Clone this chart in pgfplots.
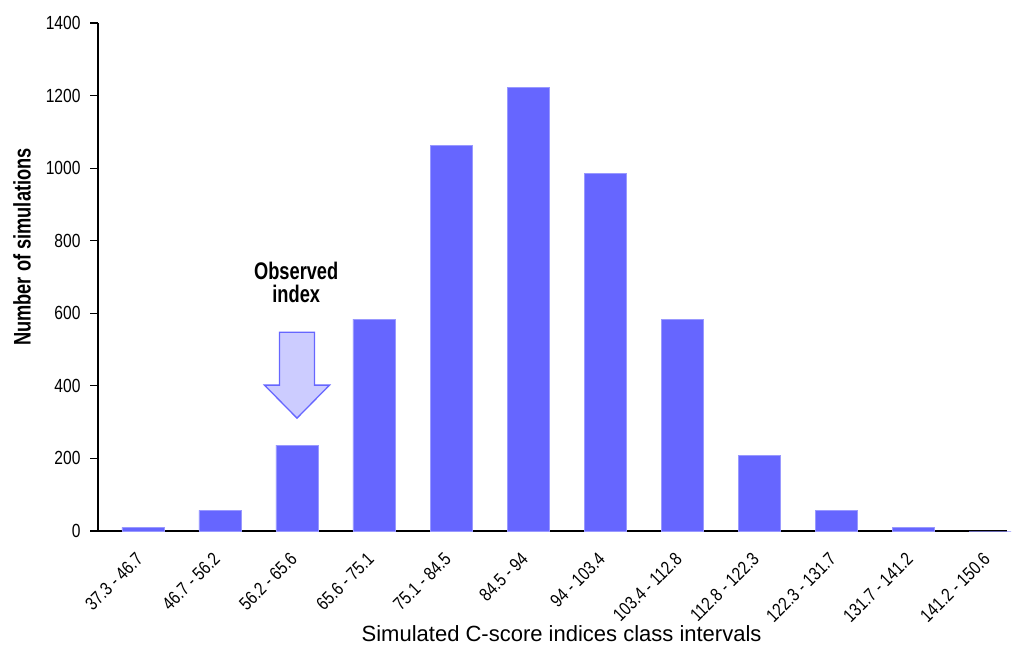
\documentclass[border=0pt]{standalone}
\usepackage{fontspec}
\setmainfont{Liberation Sans}
\newfontfamily\narrowbold[FakeStretch=0.76]{Liberation Sans Bold}
\newfontfamily\narrowreg[FakeStretch=0.82]{Liberation Sans}
\usepackage{pgfplots}
\pgfplotsset{compat=1.18}
\definecolor{barblue}{HTML}{6666FF}
\definecolor{baredge}{HTML}{9999FF}
\definecolor{arrowfill}{HTML}{CCCCFF}
\begin{document}
\begin{tikzpicture}
\begin{axis}[
  scale only axis, width=909pt, height=508pt,
  xmin=-0.584, xmax=11.22, ymin=0, ymax=1400,
  axis x line*=bottom, axis y line*=left,
  axis line style={line width=1.6pt, -},
  every tick/.style={line width=1.2pt, black},
  tick align=outside, major tick length=8pt,
  xtick={0,...,11},
  xtick style={draw=none},
  xticklabels={37.3 - 46.7, 46.7 - 56.2, 56.2 - 65.6, 65.6 - 75.1, 75.1 - 84.5, 84.5 - 94, 94 - 103.4, 103.4 - 112.8, 112.8 - 122.3, 122.3 - 131.7, 131.7 - 141.2, 141.2 - 150.6},
  x tick label style={xshift=-8pt, yshift=-12pt, rotate=45, anchor=north east, inner sep=0pt, font=\narrowreg\fontsize{18.5}{18.5}\selectfont},
  ytick={0,200,...,1400},
  y tick label style={font=\narrowreg\fontsize{19}{19}\selectfont, xshift=-6pt},
  /pgf/number format/assume math mode=true,
  /pgf/number format/1000 sep={},
  ylabel={Number of simulations},
  ylabel style={at={(axis description cs:-0.0836,0.559)}, anchor=center, font=\narrowbold\fontsize{24}{24}\selectfont},
  xlabel={Simulated C-score indices class intervals},
  xlabel style={at={(axis description cs:0.51,-0.203)}, anchor=center, font=\fontsize{22}{22}\selectfont},
  ybar, bar width=42pt,
  clip=false,
]
\addplot[fill=barblue, draw=baredge, line width=0.6pt] coordinates {
  (0,10) (1,57) (2,237) (3,584) (4,1063) (5,1222) (6,986) (7,584) (8,209) (9,57) (10,10) (11,0)
};
\draw[fill=arrowfill, draw=barblue, line width=1.3pt, line join=miter]
  (axis cs:1.773,548) -- (axis cs:2.227,548) -- (axis cs:2.227,402) -- (axis cs:2.422,402)
  -- (axis cs:2,311) -- (axis cs:1.578,402) -- (axis cs:1.773,402) -- cycle;
\node[font=\narrowbold\fontsize{24}{23}\selectfont, align=center] at (axis cs:1.99,686) {Observed\\index};
\end{axis}
\pgfresetboundingbox
\path (-98pt,-114pt) rectangle (919pt,531pt);
\end{tikzpicture}
\end{document}
